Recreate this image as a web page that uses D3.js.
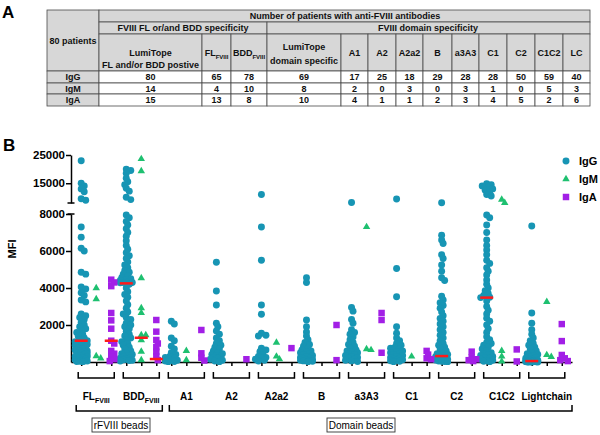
<!DOCTYPE html>
<meta charset="utf-8">
<style>
body { margin: 0; background: #fff; }
svg { font-family: "Liberation Sans", Arial, sans-serif; }
.tbl text { font-size: 9px; font-weight: bold; text-anchor: middle; fill: #111; }
.axis text { font-size: 11.5px; font-weight: bold; fill: #000; }
.axis path, .axis line { stroke: #000; stroke-width: 1.5; }
.glabel { font-size: 10px; font-weight: bold; text-anchor: middle; }
.boxlabel { font-size: 10px; text-anchor: middle; }
</style>
<svg width="600" height="435"></svg>
<script src="https://d3js.org/d3.v7.min.js"></script>
<script>

// ---- panel A table data
var tableColumns = ["LumiTope\nFL and/or BDD postive", "FL_FVIII", "BDD_FVIII", "LumiTope\ndomain specific",
  "A1", "A2", "A2a2", "B", "a3A3", "C1", "C2", "C1C2", "LC"];
var tableRows = ["IgG", "IgM", "IgA"];
var tableIgG = [80, 65, 78, 69, 17, 25, 18, 29, 28, 28, 50, 59, 40];
var tableIgM = [14, 4, 10, 8, 2, 0, 3, 0, 3, 1, 0, 5, 3];
var tableIgA = [15, 13, 8, 10, 4, 1, 1, 2, 3, 4, 5, 2, 6];

// ---- panel B data (MFI per patient)
var groups = ["FL_FVIII", "BDD_FVIII", "A1", "A2", "A2a2", "B", "a3A3", "C1", "C2", "C1C2", "Lightchain"];
var isotypes = ["IgG", "IgM", "IgA"];

var iggValues = [
  [23000, 15000, 14000, 13000, 12000, 9500, 9000, 7300, 6750, 6150, 6000, 4850, 4750, 4050, 3950, 3750, 3600,
   3350, 3250, 2600, 2500, 2400, 2300, 2150, 2000, 1900, 1800, 1700, 1600, 1500, 1400, 1300, 1200, 1150, 1100,
   1050, 1000, 950, 900, 850, 800, 750, 700, 650, 600, 600, 550, 500, 500, 450, 400, 350, 300, 300, 250, 200,
   150, 120, 100, 80, 60, 50, 40, 30, 20],
  [20000, 19500, 18500, 16800, 15500, 14500, 13200, 12200, 10000, 9200, 7950, 7800, 7600, 7400, 7200, 7000,
   6800, 6550, 6300, 6100, 5900, 5750, 5600, 5400, 5250, 5100, 4950, 4850, 4750, 4650, 4550, 4500, 4450, 4400,
   4350, 4300, 4300, 4300, 4280, 4200, 4000, 3800, 3650, 3500, 3300, 3100, 2900, 2700, 2600, 2400, 2300, 2100,
   2000, 1900, 1800, 1650, 1500, 1400, 1300, 1200, 1100, 1000, 900, 800, 700, 600, 500, 450, 400, 350, 300,
   250, 200, 150, 120, 100, 80, 50],
  [2200, 2050, 1300, 1150, 850, 700, 500, 400, 300, 250, 200, 150, 100, 80, 50, 30, 20],
  [5390, 3840, 3080, 2090, 1900, 1680, 1500, 1300, 1150, 1000, 900, 800, 700, 600, 500, 450, 400, 350, 300,
   250, 200, 150, 100, 50, 20],
  [11000, 7300, 5500, 3080, 2580, 1550, 1450, 1400, 750, 650, 550, 400, 300, 250, 200, 150, 100, 50],
  [4550, 4300, 2270, 1900, 1620, 1400, 1200, 1050, 950, 850, 750, 650, 600, 550, 500, 450, 400, 350, 300, 250,
   200, 180, 150, 120, 100, 80, 60, 40, 20],
  [8200, 2950, 2750, 2300, 2100, 1750, 1600, 1500, 1350, 1200, 1050, 950, 850, 750, 650, 600, 550, 500, 450,
   400, 350, 300, 250, 200, 150, 100, 60, 30],
  [9400, 5050, 3530, 1900, 1550, 1300, 1150, 1000, 900, 800, 750, 700, 650, 600, 550, 500, 450, 400, 350, 300,
   250, 200, 150, 120, 100, 70, 40, 20],
  [8100, 6850, 6600, 6400, 5800, 5600, 5250, 4900, 4550, 4400, 3550, 3350, 3200, 3050, 2900, 2700, 2500, 2350,
   2200, 2050, 1900, 1750, 1600, 1450, 1300, 1150, 1000, 900, 800, 700, 600, 500, 450, 400, 350, 300, 280, 250,
   220, 200, 180, 150, 130, 110, 90, 70, 50, 40, 30, 20],
  [14800, 14500, 14000, 13500, 13000, 12500, 12000, 11000, 10500, 7950, 7800, 7400, 7000, 6600, 6300, 6050,
   5800, 5500, 5330, 5100, 4900, 4700, 4430, 4200, 4000, 3850, 3700, 3600, 3500, 3480, 3300, 3000, 2800, 2600,
   2360, 2200, 2000, 1800, 1600, 1370, 1200, 1050, 1000, 900, 800, 700, 600, 500, 450, 400, 350, 300, 250, 200,
   150, 100, 70, 40, 20],
  [7350, 2650, 2100, 1750, 1500, 1300, 1150, 1000, 900, 800, 700, 600, 500, 450, 400, 350, 300, 250, 200, 150,
   120, 100, 80, 70, 60, 50, 50, 40, 40, 30, 30, 20, 20, 15, 10, 10, 5, 5, 0, 0]
];
var igmValues = [
  [4000, 3400, 320, 200],
  [23600, 19300, 4540, 2920, 2650, 1460, 1460, 1190, 560, 100],
  [600, 100],
  [],
  [1050, 300, 150],
  [],
  [7300, 700, 650],
  [300],
  [],
  [9200, 8050, 600, 300, 30],
  [3250, 380, 280]
];
var igaValues = [
  [4450, 4300, 4100, 2650, 2250, 1800, 1150, 1000, 600, 450, 300, 150, 50],
  [2270, 1640, 1190, 1000, 800, 560, 300, 100],
  [1730, 470, 230, 80],
  [150],
  [750],
  [2000, 100],
  [2650, 2270, 500],
  [600, 400, 200, 150],
  [560, 250, 150, 100, 50],
  [680, 30],
  [2050, 1130, 380, 200, 100, 50]
];
var medianIgG = [1150, 4250, null, null, null, null, null, null, 320, 3480, 50];
var medianIgM = [null, 1310, null, null, null, null, null, null, null, null, null];
var medianIgA = [1150, 160, null, null, null, null, null, null, null, null, null];

var colors = { IgG: "#1795b4", IgM: "#1ec070", IgA: "#a21fe6" };

var svg = d3.select("svg");

function richText(sel, str, subSize) {
  var parts = str.split("_");
  sel.append("tspan").text(parts[0]);
  if (parts[1]) sel.append("tspan").attr("font-size", subSize).attr("dy", 2.5).text(parts[1]);
}

// panel letters
svg.append("text").attr("x", 2).attr("y", 18).attr("font-size", 17).attr("font-weight", "bold").text("A");
svg.append("text").attr("x", 3).attr("y", 151).attr("font-size", 17).attr("font-weight", "bold").text("B");

// ---- table
var edges = [47, 99, 202, 231, 267, 341, 368, 396, 423, 452, 479, 507, 535, 563, 590];
var rowY = [10, 22, 34, 71, 83, 94, 106];
var gray = "#d7d7d7";
var tbl = svg.append("g").attr("class", "tbl");

function cell(x0, x1, y0, y1, fill) {
  tbl.append("rect").attr("x", x0).attr("y", y0).attr("width", x1 - x0).attr("height", y1 - y0)
    .attr("fill", fill).attr("stroke", "#4a4a4a").attr("stroke-width", 0.8);
}
function ctext(str, cx, cy) {
  var t = tbl.append("text").attr("x", cx).attr("y", cy + 3.2);
  richText(t, str, 6);
  return t;
}

cell(47, 99, 10, 71, gray);
ctext("80 patients", 73, 41);
cell(99, 590, 10, 22, gray);
ctext("Number of  patients with anti-FVIII antibodies", 345, 16);
cell(99, 267, 22, 34, gray);
ctext("FVIII FL or/and BDD specificity", 183, 28);
cell(267, 590, 22, 34, gray);
ctext("FVIII domain specificity", 428, 28);

tableColumns.forEach(function(c, i) {
  var x0 = edges[i + 1], x1 = edges[i + 2], cx = (x0 + x1) / 2;
  cell(x0, x1, 34, 71, gray);
  var lines = c.split("\n");
  if (lines.length === 2) {
    var top = i === 0 ? 53 : 47, bot = i === 0 ? 65 : 61;
    ctext(lines[0], cx, top);
    ctext(lines[1], cx, bot);
  } else {
    ctext(c, cx, 53);
  }
});

[tableIgG, tableIgM, tableIgA].forEach(function(vals, r) {
  var y0 = rowY[3 + r], y1 = rowY[4 + r];
  cell(47, 99, y0, y1, gray);
  ctext(tableRows[r], 73, (y0 + y1) / 2);
  vals.forEach(function(v, i) {
    cell(edges[i + 1], edges[i + 2], y0, y1, "#fff");
    ctext(String(v), (edges[i + 1] + edges[i + 2]) / 2, (y0 + y1) / 2);
  });
});

// ---- panel B plot
var columns = [];
groups.forEach(function(g) { isotypes.forEach(function(t) { columns.push(g + "|" + t); }); });

var x = d3.scalePoint().domain(columns).range([71, 572]).padding(0.68);
var yLow = d3.scaleLinear().domain([0, 8000]).range([362, 214]);
var yHigh = d3.scaleLinear().domain([8000, 25000]).range([203, 155]);
function yOf(v) { return v > 8000 ? yHigh(v) : yLow(v); }

var fmt = d3.format("d");
svg.append("g").attr("class", "axis").attr("transform", "translate(71,0)")
  .call(d3.axisLeft(yLow).tickValues([2000, 4000, 6000, 8000]).tickSize(5).tickSizeOuter(0).tickFormat(fmt));
svg.append("g").attr("class", "axis").attr("transform", "translate(71,0)")
  .call(d3.axisLeft(yHigh).tickValues([15000, 25000]).tickSize(5).tickSizeOuter(0).tickFormat(fmt));
svg.selectAll(".axis").attr("font-family", null).attr("font-size", null);
svg.selectAll(".axis .tick text").attr("x", -6);

// axis break caps
svg.append("line").attr("x1", 67.5).attr("x2", 74.5).attr("y1", yLow(8000)).attr("y2", yLow(8000))
  .attr("stroke", "#000").attr("stroke-width", 1.5);
svg.append("line").attr("x1", 67.5).attr("x2", 74.5).attr("y1", yHigh(8000)).attr("y2", yHigh(8000))
  .attr("stroke", "#000").attr("stroke-width", 1.5);

svg.append("g").attr("class", "axis").attr("transform", "translate(0,362)")
  .call(d3.axisBottom(x).tickSize(4).tickSizeOuter(0).tickFormat(""));

svg.append("text").attr("transform", "translate(16,249) rotate(-90)")
  .attr("text-anchor", "middle").attr("font-size", 11).attr("font-weight", "bold").text("MFI");

// column scatter: spread overlapping points sideways a little
var offsets = [0, 1.5, -1.5, 3, -3, 4.5, -4.5, 6, -6];
function swarm(vals, cx) {
  var placed = [];
  vals.slice().sort(function(a, b) { return b - a; }).forEach(function(v) {
    var y = yOf(v), best = 0, bestD = -1;
    for (var k = 0; k < offsets.length; k++) {
      var px = cx + offsets[k], d = Infinity;
      placed.forEach(function(p) { d = Math.min(d, Math.hypot(p.x - px, p.y - y)); });
      if (d >= 3.8) { best = offsets[k]; break; }
      if (d > bestD) { bestD = d; best = offsets[k]; }
    }
    placed.push({ x: cx + best, y: y });
  });
  return placed;
}

var symbols = {
  IgG: d3.symbol().type(d3.symbolCircle).size(38),
  IgM: d3.symbol().type(d3.symbolTriangle).size(24),
  IgA: d3.symbol().type(d3.symbolSquare).size(42)
};

var pts = svg.append("g");
[iggValues, igmValues, igaValues].forEach(function(series, s) {
  var iso = isotypes[s];
  series.forEach(function(vals, gi) {
    var cx = x(groups[gi] + "|" + iso);
    pts.selectAll(null).data(swarm(vals, cx)).enter().append("path")
      .attr("d", symbols[iso]())
      .attr("transform", function(d) { return "translate(" + d.x + "," + d.y + ")"; })
      .attr("fill", colors[iso]);
  });
});

// medians
[medianIgG, medianIgM, medianIgA].forEach(function(meds, s) {
  meds.forEach(function(m, gi) {
    if (m == null) return;
    var cx = x(groups[gi] + "|" + isotypes[s]);
    svg.append("line").attr("x1", cx - 6.5).attr("x2", cx + 6.5).attr("y1", yOf(m)).attr("y2", yOf(m))
      .attr("stroke", "#ff1a1a").attr("stroke-width", 2.5);
  });
});

// group brackets and labels
groups.forEach(function(g) {
  var x0 = x(g + "|IgG") - 3, x1 = x(g + "|IgA") + 3;
  svg.append("path").attr("d", "M" + x0 + ",372V378H" + x1 + "V372")
    .attr("fill", "none").attr("stroke", "#000").attr("stroke-width", 1.5);
  var t = svg.append("text").attr("class", "glabel").attr("x", x(g + "|IgM")).attr("y", 400);
  richText(t, g, 7);
});

function bigBracket(x0, x1) {
  svg.append("path").attr("d", "M" + x0 + ",405V411H" + x1 + "V405")
    .attr("fill", "none").attr("stroke", "#000").attr("stroke-width", 1.5);
}
bigBracket(x("FL_FVIII|IgG") - 5, x("BDD_FVIII|IgA") + 6);
bigBracket(x("A1|IgG") - 2, 572);

function boxLabel(str, x0, x1) {
  svg.append("rect").attr("x", x0).attr("y", 418).attr("width", x1 - x0).attr("height", 14)
    .attr("fill", "#fff").attr("stroke", "#333").attr("stroke-width", 0.9);
  svg.append("text").attr("class", "boxlabel").attr("x", (x0 + x1) / 2).attr("y", 429).text(str);
}
boxLabel("rFVIII beads", 92, 150);
boxLabel("Domain beads", 327, 395);

// legend
var lg = svg.append("g").attr("transform", "translate(566,161)");
isotypes.forEach(function(t, i) {
  var row = lg.append("g").attr("transform", "translate(0," + i * 18 + ")");
  row.append("path").attr("d", symbols[t]()).attr("fill", colors[t]);
  row.append("text").attr("x", 13).attr("y", 4).attr("font-size", 11).attr("font-weight", "bold").text(t);
});

</script>
